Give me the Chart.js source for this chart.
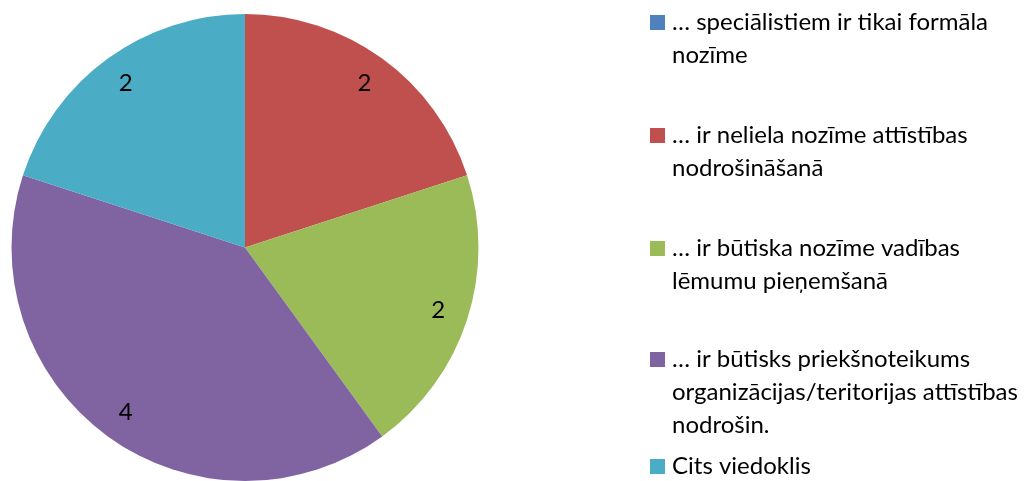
<!DOCTYPE html>
<html>
<head>
<meta charset="utf-8">
<script src="https://cdn.jsdelivr.net/npm/chart.js@4"></script>
<style>
    html, body { margin: 0; padding: 0; background: #fff; }
    #wrap { width: 1034px; height: 481px; position: relative; }
</style>
</head>
<body>
<div id="wrap"><canvas id="chart"></canvas></div>
<script>
const categories = [
    ['… speciālistiem ir tikai formāla', 'nozīme'],
    ['… ir neliela nozīme attīstības', 'nodrošināšanā'],
    ['… ir būtiska nozīme vadības', 'lēmumu pieņemšanā'],
    ['… ir būtisks priekšnoteikums', 'organizācijas/teritorijas attīstības', 'nodrošin.'],
    ['Cits viedoklis']
];
const values = [0, 2, 2, 4, 2];
const colors = ['#4F81BD', '#C0504D', '#9BBB59', '#8064A2', '#4BACC6'];

const FONT = '24px Lato, "Open Sans", sans-serif';

// value labels inside the slices, near the rim
const sliceLabels = {
    id: 'sliceLabels',
    afterDatasetsDraw(chart) {
        const ctx = chart.ctx;
        const meta = chart.getDatasetMeta(0);
        ctx.save();
        ctx.font = FONT;
        ctx.fillStyle = '#000';
        ctx.textAlign = 'center';
        ctx.textBaseline = 'middle';
        meta.data.forEach((arc, i) => {
            if (!values[i]) return;
            const mid = (arc.startAngle + arc.endAngle) / 2;
            const r = arc.outerRadius * 0.87;
            ctx.fillText(String(values[i]), arc.x + Math.cos(mid) * r, arc.y + Math.sin(mid) * r);
        });
        ctx.restore();
    }
};

// legend on the right, wrapped lines like the original
const sideLegend = {
    id: 'sideLegend',
    afterDraw(chart) {
        const ctx = chart.ctx;
        const lineH = 33;
        const tops = [22, 135, 248, 359, 466];
        ctx.save();
        ctx.font = FONT;
        ctx.textBaseline = 'middle';
        ctx.textAlign = 'left';
        categories.forEach((lines, i) => {
            const y = tops[i];
            ctx.fillStyle = colors[i];
            ctx.fillRect(650, y - 7, 15, 15);
            ctx.fillStyle = '#000';
            lines.forEach((t, k) => ctx.fillText(t, 672, y + k * lineH));
        });
        ctx.restore();
    }
};

new Chart(document.getElementById('chart'), {
    type: 'pie',
    data: {
        labels: categories.map(l => l.join(' ')),
        datasets: [{
            data: values,
            backgroundColor: colors,
            borderWidth: 0
        }]
    },
    options: {
        responsive: true,
        maintainAspectRatio: false,
        animation: false,
        layout: { padding: { left: 11, top: 14, right: 555, bottom: 0 } },
        plugins: {
            legend: { display: false },
            tooltip: { enabled: false }
        }
    },
    plugins: [sliceLabels, sideLegend]
});
</script>
</body>
</html>
